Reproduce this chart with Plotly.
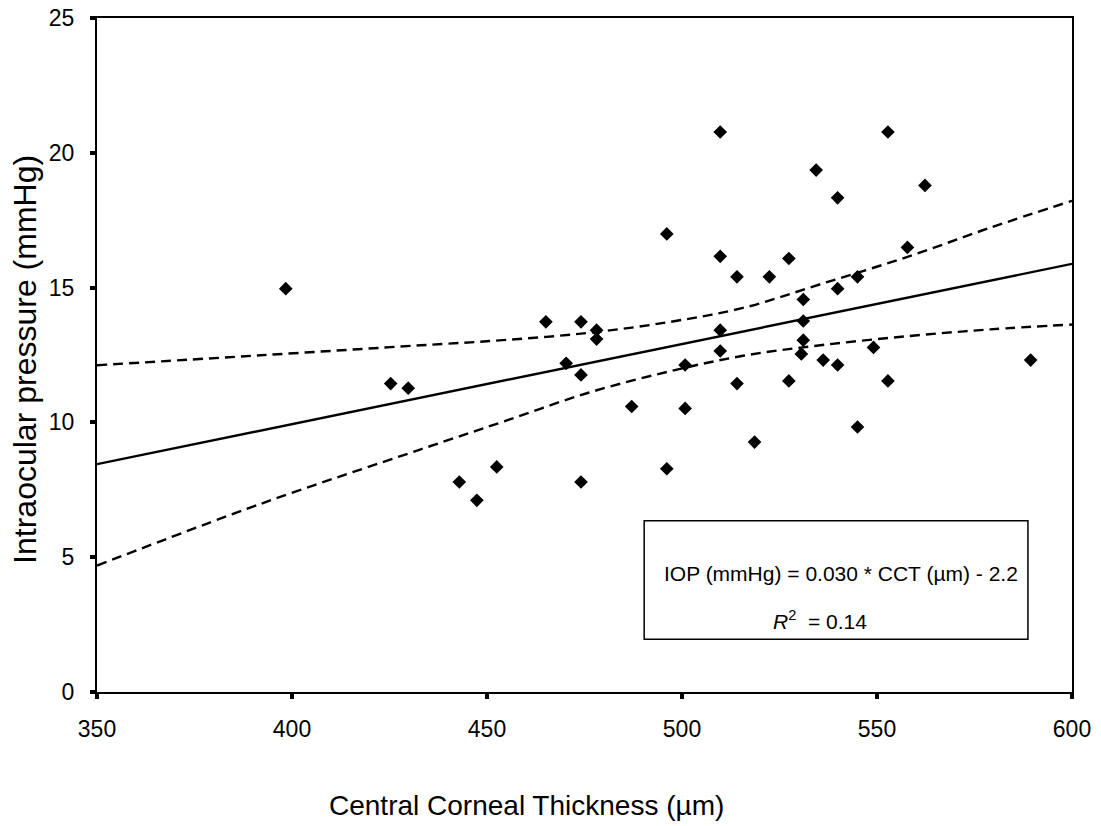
import plotly.graph_objects as go

# Central corneal thickness (µm) and IOP (mmHg) data points
cct = [398.4, 425.3, 429.8, 442.9, 447.4, 452.5, 465.1, 474.1, 470.3, 474.1,
       478.1, 478.1, 474.1, 487.1, 496.1, 496.1, 500.8, 500.8, 509.8, 509.8,
       509.8, 509.8, 514.1, 514.1, 518.6, 522.4, 527.4, 527.4, 531.1, 531.1,
       531.1, 530.6, 534.4, 536.2, 539.9, 539.9, 539.9, 545.0, 545.0, 549.1,
       552.8, 552.8, 557.8, 562.3, 589.4]
iop = [14.96, 11.44, 11.27, 7.79, 7.11, 8.35, 13.73, 13.73, 12.19, 11.76,
       13.42, 13.09, 7.79, 10.59, 16.99, 8.28, 12.13, 10.52, 20.77, 16.16,
       13.42, 12.65, 15.40, 11.44, 9.27, 15.40, 16.08, 11.54, 14.56, 13.76,
       13.05, 12.54, 19.36, 12.31, 18.33, 14.96, 12.13, 15.40, 9.83, 12.78,
       20.77, 11.54, 16.49, 18.79, 12.31]

# Regression line endpoints
fit_x = [350, 600]
fit_y = [8.45, 15.88]

# 95% confidence band
band_x = [350, 392, 433, 454, 476, 497, 516, 536, 558, 579, 600]
band_upper = [12.12, 12.49, 12.86, 13.05, 13.32, 13.73, 14.26, 15.15, 16.15, 17.22, 18.22]
band_lower = [4.69, 6.98, 9.0, 10.02, 11.1, 11.9, 12.48, 12.87, 13.2, 13.45, 13.63]

x_ticks = [350, 400, 450, 500, 550, 600]
y_ticks = [0, 5, 10, 15, 20, 25]

FONT = "Arial, Liberation Sans, sans-serif"

fig = go.Figure()
dash = "10px,6px"
fig.add_trace(go.Scatter(x=band_x, y=band_upper, mode="lines", line_shape="spline",
                         line=dict(color="black", width=2.4, dash=dash), hoverinfo="skip"))
fig.add_trace(go.Scatter(x=band_x, y=band_lower, mode="lines", line_shape="spline",
                         line=dict(color="black", width=2.4, dash=dash), hoverinfo="skip"))
fig.add_trace(go.Scatter(x=fit_x, y=fit_y, mode="lines",
                         line=dict(color="black", width=2.4), hoverinfo="skip"))
fig.add_trace(go.Scatter(x=cct, y=iop, mode="markers",
                         marker=dict(symbol="diamond", size=10.5, color="black")))

axis_common = dict(showline=True, linecolor="black", linewidth=2, mirror=True,
                   ticks="outside", ticklen=5, tickwidth=4, tickcolor="black",
                   showgrid=False, zeroline=False, automargin=False,
                   ticklabeloverflow="allow",
                   tickfont=dict(family=FONT, size=23, color="black"))

fig.update_xaxes(range=[350, 600], tickvals=x_ticks, ticklabelstandoff=10, **axis_common)
fig.update_yaxes(range=[0, 25], tickvals=y_ticks, ticklabelstandoff=11, **axis_common)

# Equation box
fig.add_shape(type="rect", xref="x", yref="y", x0=490.3, x1=588.7, y0=1.96, y1=6.35,
              line=dict(color="black", width=1.5), fillcolor="white", layer="above")
fig.add_annotation(xref="x", yref="y", x=540.8, y=4.39,
                   text="IOP (mmHg) = 0.030 * CCT (µm) - 2.2", showarrow=False,
                   font=dict(family=FONT, size=21, color="black"))
fig.add_annotation(xref="x", yref="y", x=535.4, y=2.66,
                   text="<i>R</i><sup>2</sup>  = 0.14", showarrow=False,
                   font=dict(family=FONT, size=21, color="black"))

# Axis titles
fig.add_annotation(xref="paper", yref="paper", x=0.44, y=-0.1677,
                   xanchor="center", yanchor="middle",
                   text="Central Corneal Thickness (µm)", showarrow=False,
                   font=dict(family=FONT, size=28, color="black"))
fig.add_annotation(xref="paper", yref="paper", x=-0.074, y=0.494, textangle=-90,
                   xanchor="center", yanchor="middle",
                   text="Intraocular pressure (mmHg)", showarrow=False,
                   font=dict(family=FONT, size=32, color="black"))

# page body adds an 8px offset, so the figure is sized to fit the window
fig.update_layout(width=1093, height=818, showlegend=False,
                  margin=dict(l=89, r=29, t=10, b=134, autoexpand=False),
                  paper_bgcolor="white", plot_bgcolor="white")

fig.write_html("out.html")
